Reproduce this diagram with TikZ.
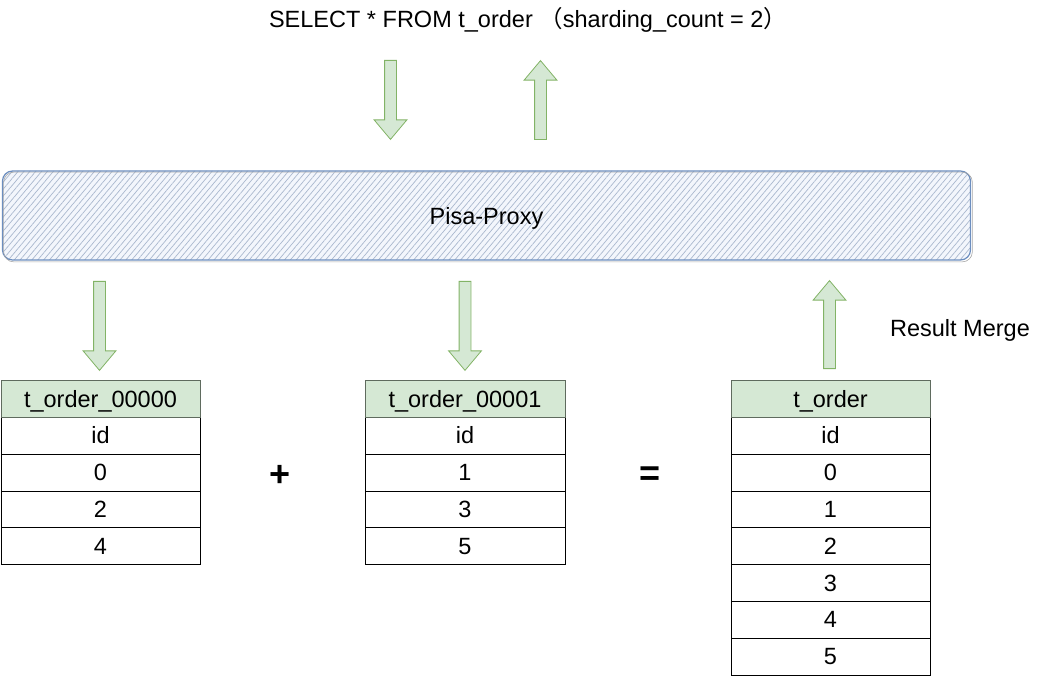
\documentclass[tikz,border=0pt]{standalone}
\usepackage{fontspec}
\setmainfont{Liberation Sans}
\newfontfamily\cjk{Noto Sans CJK SC}
\usetikzlibrary{shapes.arrows,patterns.meta}

\definecolor{greenfill}{HTML}{D5E8D4}
\definecolor{greenline}{HTML}{82B366}
\definecolor{bluefill}{HTML}{F3F6FC}
\definecolor{blueline}{HTML}{6C8EBF}
\definecolor{hatch}{HTML}{AAB8CE}
\definecolor{headline}{HTML}{5F6B5E}

\begin{document}
\begin{tikzpicture}[x=1pt,y=-1pt,font=\fontsize{23.5}{28}\selectfont]
          \tikzstyle{cell}=[draw,minimum width=199,minimum height=36.9,inner sep=0pt,text depth=0pt]
          \tikzstyle{head}=[cell,fill=greenfill,draw=headline]
          \tikzstyle{flow}=[single arrow,anchor=tail,draw=greenline,fill=greenfill,line width=0.8pt,inner xsep=0pt,inner ysep=5.5pt,single arrow head extend=10.5pt,single arrow tip angle=80]
          \tikzstyle{proxy}=[draw=blueline,line width=1.2pt,rounded corners=10,minimum width=968,minimum height=89,text depth=0pt,preaction={fill=bluefill},pattern={Lines[angle=50,distance=4.5pt,line width=0.7pt]},pattern color=hatch]
          \tikzstyle{op}=[font=\fontsize{36}{40}\selectfont\bfseries]

          \useasboundingbox (0,0) rectangle (1044,676);

          \node (query) at (528,20) {SELECT * FROM t\_order\ {\cjk （}sharding\_count = 2{\cjk ）}};

          \node[flow,rotate=-90,minimum height=79] (send) at (390.5,60) {};
          \node[flow,rotate=90,minimum height=79] (reply) at (540.5,140) {};

          \node[proxy] (proxy) at (486.5,215.5) {Pisa-Proxy};
          \draw[gray!70,line width=0.6pt,rounded corners=10] ([shift={(1.5,1.5)}]proxy.north west) rectangle ([shift={(1.5,1.5)}]proxy.south east);

          \node[flow,rotate=-90,minimum height=89] (route0) at (99.5,281) {};
          \node[flow,rotate=-90,minimum height=89] (route1) at (465,281) {};
          \node[flow,rotate=90,minimum height=88] (merge) at (829.5,369) {};
          \node (mergelabel) at (960,330) {Result Merge};

          % shard t_order_00000
          \foreach \v [count=\i] in {id,0,2,4}
            \node[cell] (s0r\i) at (100.5,{398.5+36.9*\i}) {\v};
          \node[head] (s0) at (100.5,398.5) {t\_order\_00000};

          % shard t_order_00001
          \foreach \v [count=\i] in {id,1,3,5}
            \node[cell,minimum width=200] (s1r\i) at (465,{398.5+36.9*\i}) {\v};
          \node[head,minimum width=200] (s1) at (465,398.5) {t\_order\_00001};

          % merged t_order
          \foreach \v [count=\i] in {id,0,1,2,3,4,5}
            \node[cell] (mr\i) at (830.5,{398.5+36.9*\i}) {\v};
          \node[head] (m) at (830.5,398.5) {t\_order};

          \node[op] (plus) at (280.5,476) {+};
          \node[op] (equal) at (650,476) {=};
        \end{tikzpicture}
\end{document}
